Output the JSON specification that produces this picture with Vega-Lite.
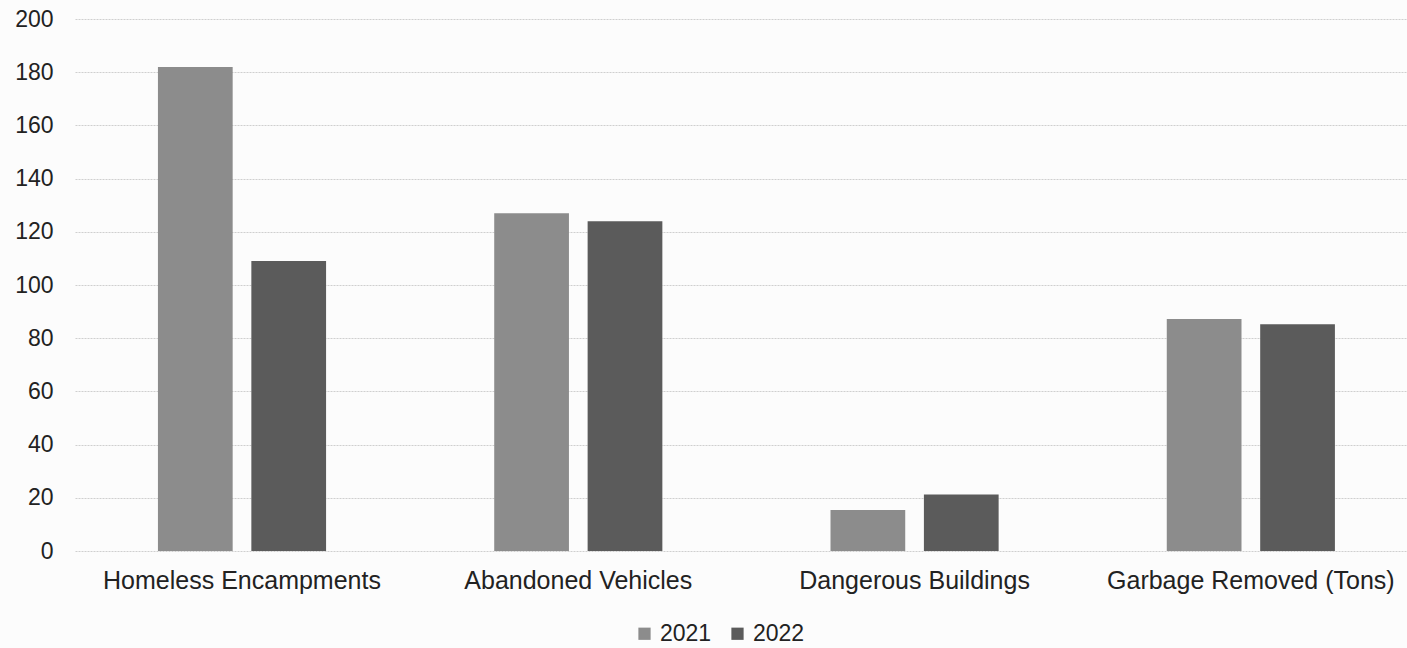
{
  "$schema": "https://vega.github.io/schema/vega-lite/v6.json",
  "width": 1332,
  "height": 532,
  "autosize": "none",
  "padding": {"left": 75, "top": 19, "right": 0, "bottom": 97},
  "background": "#fcfcfc",
  "data": {
    "values": [
      {"category": "Homeless Encampments", "year": "2021", "value": 182},
      {"category": "Homeless Encampments", "year": "2022", "value": 109},
      {"category": "Abandoned Vehicles", "year": "2021", "value": 127},
      {"category": "Abandoned Vehicles", "year": "2022", "value": 124},
      {"category": "Dangerous Buildings", "year": "2021", "value": 15.4},
      {"category": "Dangerous Buildings", "year": "2022", "value": 21.2},
      {"category": "Garbage Removed (Tons)", "year": "2021", "value": 87.2},
      {"category": "Garbage Removed (Tons)", "year": "2022", "value": 85.2}
    ]
  },
  "config": {
    "font": "Liberation Sans",
    "view": {"stroke": null}
  },
  "mark": {"type": "bar"},
  "encoding": {
    "x": {
      "field": "category",
      "type": "nominal",
      "sort": null,
      "scale": {"paddingInner": 0.5, "paddingOuter": 0.2305, "align": 0.535},
      "axis": {
        "title": null,
        "labelAngle": 0,
        "labelFontSize": 25,
        "labelLimit": 0,
        "labelColor": "#222222",
        "labelPadding": 17,
        "domain": false,
        "ticks": false,
        "grid": false
      }
    },
    "xOffset": {
      "field": "year",
      "type": "nominal",
      "scale": {"paddingInner": 0.2, "paddingOuter": 0}
    },
    "y": {
      "field": "value",
      "type": "quantitative",
      "scale": {"domain": [0, 200], "nice": false},
      "axis": {
        "title": null,
        "values": [0, 20, 40, 60, 80, 100, 120, 140, 160, 180, 200],
        "labelFontSize": 23,
        "labelColor": "#222222",
        "labelPadding": 22,
        "domain": false,
        "ticks": false,
        "grid": true,
        "gridColor": "#cfcfcf",
        "gridWidth": 1,
        "gridDash": [2, 1]
      }
    },
    "color": {
      "field": "year",
      "type": "nominal",
      "scale": {"domain": ["2021", "2022"], "range": ["#8c8c8c", "#5b5b5b"]},
      "legend": {
        "title": null,
        "orient": "none",
        "direction": "horizontal",
        "legendX": 558,
        "legendY": 603,
        "symbolType": "square",
        "symbolSize": 150,
        "labelFontSize": 23,
        "labelColor": "#222222",
        "columnPadding": 14,
        "labelOffset": 4
      }
    }
  }
}
